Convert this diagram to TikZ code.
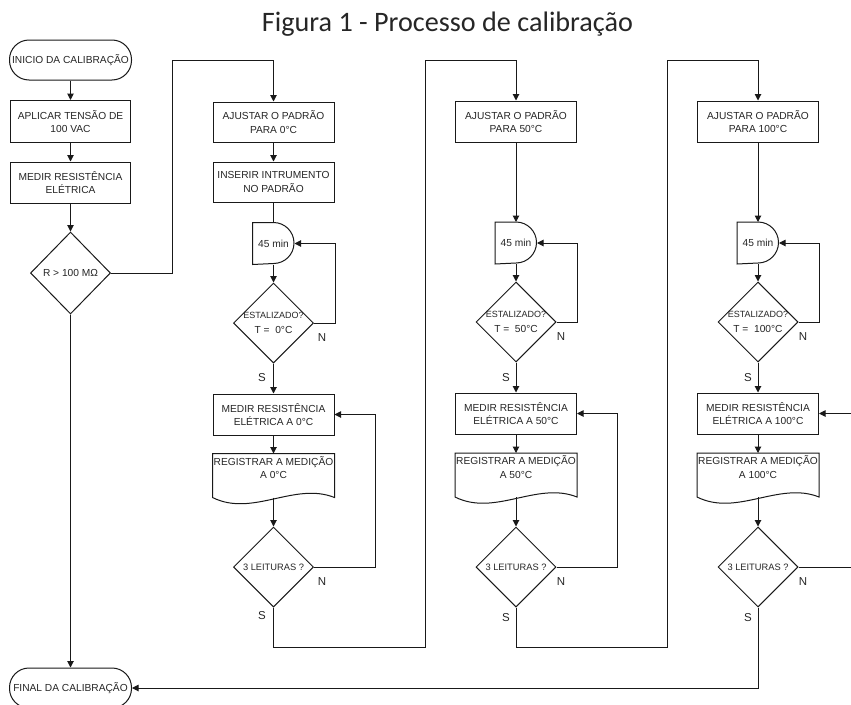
\documentclass[tikz,border=0pt]{standalone}
\usepackage{fontspec}
\usepackage{graphicx}
\setmainfont{Liberation Sans}
\newfontfamily\titlefont{Carlito}
\usetikzlibrary{shapes.geometric,arrows.meta,calc}
\begin{document}
\begin{tikzpicture}[x=1pt,y=-1pt,
  line width=1pt,
  every node/.style={font=\fontsize{10.2}{13.5}\selectfont, inner sep=0pt, text=black!85},
  proc/.style={draw=black!90, rectangle, minimum width=121pt, minimum height=41pt, align=center},
  term/.style={draw=black!90, rounded corners=19.5pt, minimum width=122pt, minimum height=40pt},
  decis/.style={draw=black!90, diamond, minimum width=80pt, minimum height=80pt},
  holder/.style={rectangle, minimum width=41pt, minimum height=41pt},
  docbox/.style={rectangle, minimum width=121pt, minimum height=43pt, align=center},
  arr/.style={-{Triangle[length=6.5pt,width=6.5pt]}},
  yn/.style={font=\fontsize{11.5}{13}\selectfont}
]
\useasboundingbox (0,0) rectangle (851,704);
\fill[white] (0,0) rectangle (851,704);

% title
\node[anchor=base] (title) at (447.5,31) {\resizebox{371pt}{!}{\titlefont Figura 1 - Processo de calibração}};

% column 1
\node[term] (ini) at (70.5,60) {INICIO DA CALIBRAÇÃO};
\node[proc, minimum width=120pt, minimum height=42pt] (ap) at (70.5,121.5) {APLICAR TENSÃO DE\\100 VAC};
\node[proc, minimum width=120pt] (me) at (70.5,182.5) {MEDIR RESISTÊNCIA\\ELÉTRICA};
\node[decis, minimum height=82pt, label={center:R > 100 MΩ}] (dec0) at (70.5,273) {};
\node[term] (fin) at (70.5,688) {FINAL DA CALIBRAÇÃO};

% column 2
\node[proc, minimum height=40pt] (aj0) at (273.5,122) {AJUSTAR O PADRÃO\\PARA 0°C};
\node[proc, minimum height=40pt] (ins) at (273.5,182) {INSERIR INTRUMENTO\\NO PADRÃO};
\node[holder] (del0) at (273.5,243.5) {45 min};
\node[decis, label={[align=center]center:{\fontsize{9}{11}\selectfont ESTALIZADO?}\\[1pt]T =\ \ 0°C}] (est0) at (273.5,323) {};
\node[proc] (me0) at (273.5,414.5) {MEDIR RESISTÊNCIA\\ELÉTRICA A 0°C};
\node[docbox] (reg0) at (273.5,475.5) {REGISTRAR A MEDIÇÃO\\A 0°C\\[2pt]};
\node[decis, label={[font=\fontsize{9.3}{11}\selectfont]center:3 LEITURAS ?}] (le0) at (273.5,567) {};

% column 3
\node[proc] (aj50) at (516,121.5) {AJUSTAR O PADRÃO\\PARA 50°C};
\node[holder] (del50) at (516,243) {45 min};
\node[decis, label={[align=center]center:{\fontsize{9}{11}\selectfont ESTALIZADO?}\\[1pt]T =\ \ 50°C}] (est50) at (516,322) {};
\node[proc] (me50) at (516,413.5) {MEDIR RESISTÊNCIA\\ELÉTRICA A 50°C};
\node[docbox] (reg50) at (516,475) {REGISTRAR A MEDIÇÃO\\A 50°C\\[2pt]};
\node[decis, label={[font=\fontsize{9.3}{11}\selectfont]center:3 LEITURAS ?}] (le50) at (516,567) {};

% column 4
\node[proc] (aj100) at (758,121.5) {AJUSTAR O PADRÃO\\PARA 100°C};
\node[holder] (del100) at (758,243) {45 min};
\node[decis, label={[align=center]center:{\fontsize{9}{11}\selectfont ESTALIZADO?}\\[1pt]T =\ \ 100°C}] (est100) at (758,322) {};
\node[proc] (me100) at (758,413.5) {MEDIR RESISTÊNCIA\\ELÉTRICA A 100°C};
\node[docbox] (reg100) at (758,475) {REGISTRAR A MEDIÇÃO\\A 100°C\\[2pt]};
\node[decis, label={[font=\fontsize{9.3}{11}\selectfont]center:3 LEITURAS ?}] (le100) at (758,567) {};

% delay and document outlines
\foreach \d in {del0,del50,del100}{
  \draw[black!90] (\d.south west) -- (\d.north west) -- (\d.north) arc[start angle=90,end angle=-90,radius=20.5pt] -- cycle;
}
\foreach \r in {reg0,reg50,reg100}{
  \draw[black!90] (\r.north west) -- (\r.south west)
    .. controls ($(\r.south west)+(40pt,-20pt)$) and ($(\r.south east)+(-40pt,16pt)$) .. (\r.south east)
    -- (\r.north east) -- cycle;
}

% N / S labels
\node[yn] (n0a) at (322,338) {N};
\node[yn] (n0b) at (322,582) {N};
\node[yn] (s0a) at (262,378) {S};
\node[yn] (s0b) at (262,616) {S};
\node[yn] (n50a) at (561,337) {N};
\node[yn] (n50b) at (561,582) {N};
\node[yn] (s50a) at (506,378) {S};
\node[yn] (s50b) at (506,618) {S};
\node[yn] (n100a) at (803,337) {N};
\node[yn] (n100b) at (803,582) {N};
\node[yn] (s100a) at (748,378) {S};
\node[yn] (s100b) at (748,618) {S};

% bend coordinates
\coordinate (t1) at (172,60);
\coordinate (b2) at (425,647);
\coordinate (t2) at (425,60);
\coordinate (b3) at (667,647);
\coordinate (t3) at (667,60);

\begin{scope}[draw=black!90]
% connectors column 1
\draw[arr] (ini) -- (ap);
\draw[arr] (ap) -- (me);
\draw[arr] (me) -- (dec0);
\draw[arr] (dec0) -- (fin);
\draw[arr] (dec0.east) -| (t1) -| (aj0.north);

% column 2
\draw[arr] (aj0) -- (ins);
\draw (ins) -- (del0);
\draw[arr] (del0) -- (est0);
\draw[arr] (est0.east) -- ++(21,0) |- (del0.east);
\draw[arr] (est0) -- (me0);
\draw[arr] (me0) -- (reg0);
\draw[arr] (reg0) -- (le0);
\draw[arr] (le0.east) -- ++(61,0) |- (me0.east);
\draw[arr] (le0.south) |- (b2) -- (t2) -| (aj50.north);

% column 3
\draw[arr] (aj50) -- (del50);
\draw[arr] (del50) -- (est50);
\draw[arr] (est50.east) -- ++(21,0) |- (del50.east);
\draw[arr] (est50) -- (me50);
\draw[arr] (me50) -- (reg50);
\draw[arr] (reg50) -- (le50);
\draw[arr] (le50.east) -- ++(61,0) |- (me50.east);
\draw[arr] (le50.south) |- (b3) -- (t3) -| (aj100.north);

% column 4
\draw[arr] (aj100) -- (del100);
\draw[arr] (del100) -- (est100);
\draw[arr] (est100.east) -- ++(21,0) |- (del100.east);
\draw[arr] (est100) -- (me100);
\draw[arr] (me100) -- (reg100);
\draw[arr] (reg100) -- (le100);
\draw[arr] (le100.east) -- ++(70,0) |- (me100.east);
\draw[arr] (le100.south) |- (fin.east);
\end{scope}
\end{tikzpicture}
\end{document}
